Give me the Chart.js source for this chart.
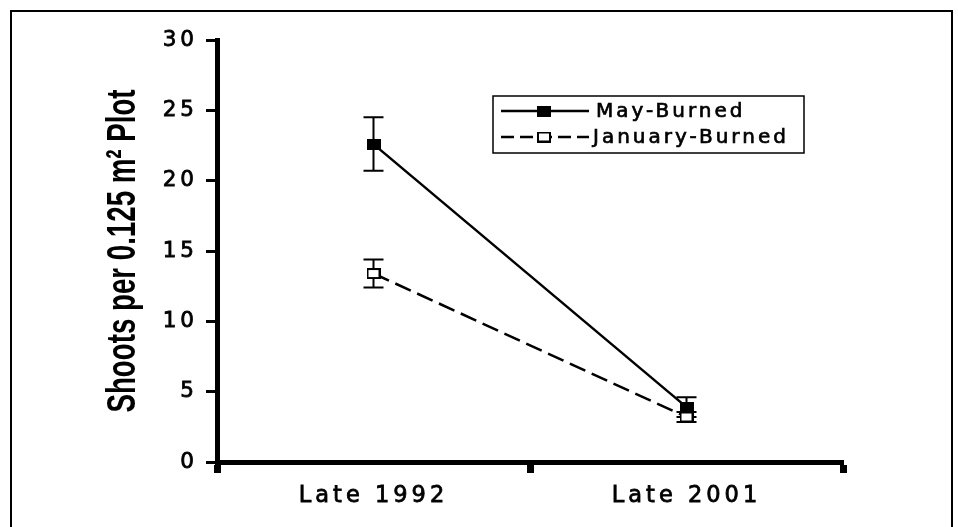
<!DOCTYPE html>
<html>
<head>
<meta charset="utf-8">
<script src="https://cdn.jsdelivr.net/npm/chart.js@4.4.1/dist/chart.umd.min.js"></script>
<style>
  html, body { margin: 0; padding: 0; background: #fff; }
  #wrap { position: relative; width: 958px; height: 527px; }
</style>
</head>
<body>
<div id="wrap"><canvas id="chart"></canvas></div>
<script>
// data
const periods = ['Late 1992', 'Late 2001'];
const mayBurned = [22.6, 3.9];
const mayBurnedErr = [1.9, 0.7];
const janBurned = [13.4, 3.2];
const janBurnedErr = [1.0, 0.35];
const yMin = 0, yMax = 30, yStep = 5;
const yTitle = 'Shoots per 0.125 m² Plot';

// slightly wide square markers, like the scanned figure
function makeMarker(fill) {
    const c = document.createElement('canvas');
    c.width = 14; c.height = 11;
    const g = c.getContext('2d');
    g.fillStyle = fill;
    g.fillRect(0, 0, 14, 11);
    g.strokeStyle = '#000';
    g.lineWidth = 2;
    g.strokeRect(1, 1, 12, 9);
    return c;
}
const filledSquare = makeMarker('#000');
const hollowSquare = makeMarker('#fff');

// vertical error bars, drawn under the markers
const errorBars = {
    id: 'errorBars',
    beforeDatasetsDraw(chart) {
        const ctx = chart.ctx;
        const y = chart.scales.y;
        ctx.save();
        ctx.strokeStyle = '#000';
        ctx.lineWidth = 2;
        chart.data.datasets.forEach((ds, i) => {
            const meta = chart.getDatasetMeta(i);
            meta.data.forEach((pt, j) => {
                const v = ds.data[j], e = ds.errors[j];
                const top = y.getPixelForValue(v + e);
                const bot = y.getPixelForValue(v - e);
                ctx.beginPath();
                ctx.moveTo(pt.x, top); ctx.lineTo(pt.x, bot);
                ctx.moveTo(pt.x - 10, top); ctx.lineTo(pt.x + 10, top);
                ctx.moveTo(pt.x - 10, bot); ctx.lineTo(pt.x + 10, bot);
                ctx.stroke();
            });
        });
        ctx.restore();
    }
};

// outer frame, y title, wide text spacing, and the boxed legend
const frameAndLegend = {
    id: 'frameAndLegend',
    beforeDraw(chart) {
        const ctx = chart.ctx;
        ctx.letterSpacing = '0px';
        ctx.save();
        ctx.strokeStyle = '#000';
        ctx.lineWidth = 2;
        ctx.strokeRect(11, 11, 941, 540);
        // axis title, tall narrow bold letters
        const a = chart.chartArea;
        ctx.translate(135, (a.top + a.bottom) / 2);
        ctx.rotate(-Math.PI / 2);
        ctx.scale(1, 1.5);
        ctx.fillStyle = '#000';
        ctx.font = 'bold 27.7px "Liberation Sans", Arial, sans-serif';
        ctx.textAlign = 'center';
        ctx.textBaseline = 'alphabetic';
        ctx.fillText(yTitle, 0, 0);
        ctx.restore();
    },
    afterDatasetsDraw(chart) {
        chart.ctx.letterSpacing = '4px';
    },
    afterDraw(chart) {
        const ctx = chart.ctx;
        ctx.letterSpacing = '3px';
        ctx.save();
        ctx.strokeStyle = '#000';
        ctx.lineWidth = 1.5;
        ctx.strokeRect(493, 96, 311, 57);
        const rows = [111, 137];
        chart.data.datasets.forEach((ds, i) => {
            const ry = rows[i];
            ctx.setLineDash(ds.borderDash ? [13, 6] : []);
            ctx.lineWidth = ds.borderWidth;
            ctx.beginPath();
            ctx.moveTo(501, ry); ctx.lineTo(589, ry);
            ctx.stroke();
            ctx.setLineDash([]);
            const m = ds.pointStyle;
            ctx.drawImage(m, 544 - m.width / 2, ry - m.height / 2);
            ctx.fillStyle = '#000';
            ctx.font = '20px "DejaVu Sans"';
            ctx.textBaseline = 'middle';
            ctx.textAlign = 'left';
            const tx = i === 0 ? 596 : 593;
            ctx.fillText(ds.label, tx, ry + 1);
            ctx.lineWidth = 0.7;
            ctx.strokeText(ds.label, tx, ry + 1);
        });
        ctx.restore();
        ctx.letterSpacing = '0px';
    }
};

new Chart(document.getElementById('chart'), {
    type: 'line',
    data: {
        labels: periods,
        datasets: [
            {
                label: 'May-Burned',
                data: mayBurned,
                errors: mayBurnedErr,
                borderColor: '#000',
                borderWidth: 2.5,
                pointStyle: filledSquare,
                pointRadius: 7
            },
            {
                label: 'January-Burned',
                data: janBurned,
                errors: janBurnedErr,
                borderColor: '#000',
                borderWidth: 2.5,
                borderDash: [17, 7],
                pointStyle: hollowSquare,
                pointRadius: 7
            }
        ]
    },
    options: {
        responsive: true,
        maintainAspectRatio: false,
        animation: false,
        layout: { padding: { left: 0, right: 115, top: 40, bottom: 0 } },
        plugins: {
            legend: { display: false },
            tooltip: { enabled: false }
        },
        scales: {
            x: {
                offset: true,
                afterFit: (s) => { s.height = 65; },
                grid: { offset: true, drawOnChartArea: false, color: '#000', tickLength: 11, tickWidth: 7 },
                border: { color: '#000', width: 5 },
                ticks: {
                    z: 1, color: '#000', padding: 10,
                    textStrokeColor: '#000', textStrokeWidth: 0.8,
                    font: { family: 'DejaVu Sans', size: 22.5 }
                }
            },
            y: {
                min: yMin,
                max: yMax,
                afterFit: (s) => { s.width = 217; },
                grid: { drawOnChartArea: false, color: '#000', tickLength: 11, tickWidth: 3 },
                border: { color: '#000', width: 5 },
                ticks: {
                    z: 1, stepSize: yStep, color: '#000', padding: 8,
                    textStrokeColor: '#000', textStrokeWidth: 0.8,
                    font: { family: 'DejaVu Sans', size: 21.5 }
                }
            }
        }
    },
    plugins: [errorBars, frameAndLegend]
});
</script>
</body>
</html>
